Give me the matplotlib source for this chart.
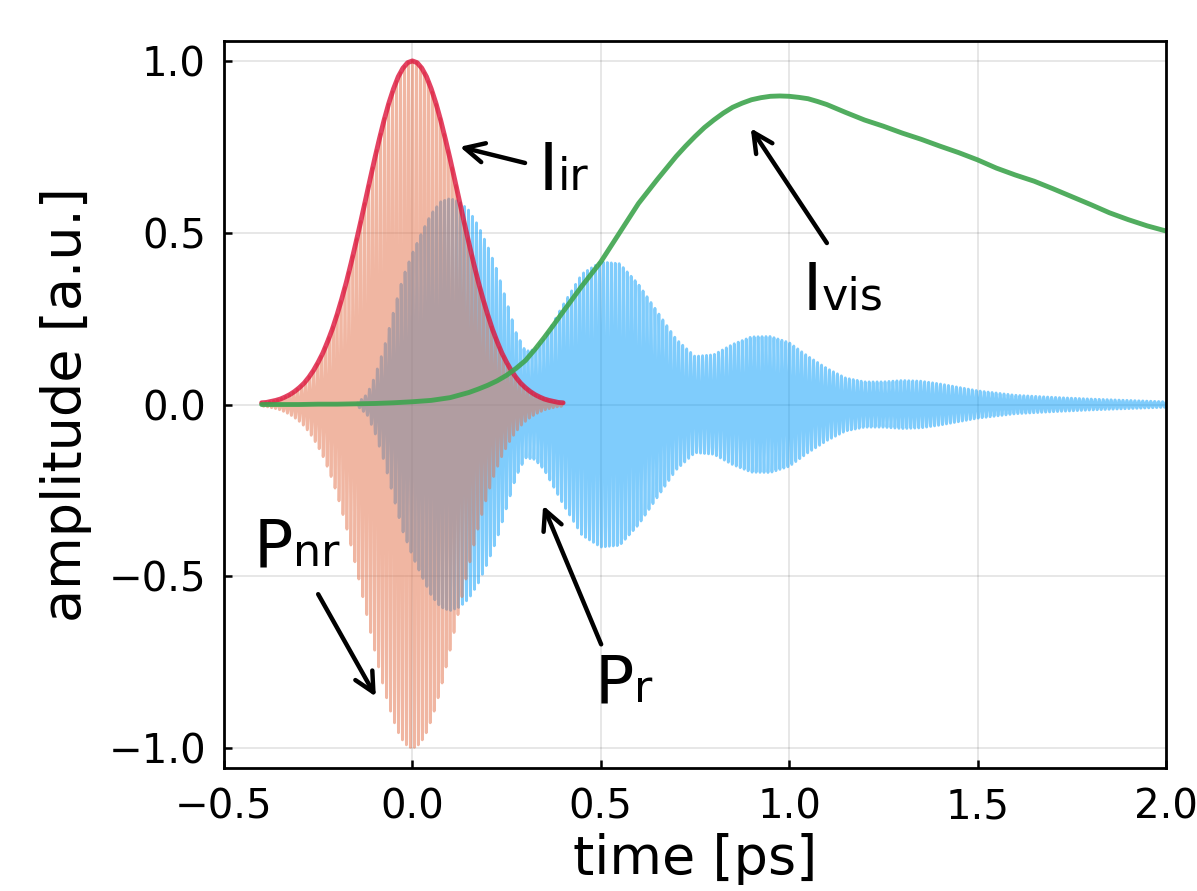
import numpy as np
import matplotlib
matplotlib.use('Agg')
import matplotlib.pyplot as plt

# IR pump intensity (also the envelope of the non-resonant polarisation)
t_ir = np.linspace(-0.4, 0.4, 65)
I_ir_half = [1.000, 0.995, 0.979, 0.954, 0.919, 0.877, 0.828, 0.773, 0.715, 0.654,
             0.592, 0.530, 0.470, 0.412, 0.357, 0.307, 0.261, 0.219, 0.183, 0.150,
             0.123, 0.099, 0.079, 0.062, 0.049, 0.038, 0.029, 0.022, 0.016, 0.012,
             0.009, 0.006, 0.005]
I_ir = I_ir_half[::-1] + I_ir_half[1:]

# visible probe intensity
t_vis = [-0.40, -0.35, -0.30, -0.25, -0.20, -0.15, -0.10, -0.05, 0.00, 0.05, 0.10,
         0.15, 0.175, 0.20, 0.225, 0.25, 0.275, 0.30, 0.325, 0.35, 0.375, 0.40, 0.45,
         0.50, 0.55, 0.60, 0.65, 0.70, 0.725, 0.75, 0.775, 0.80, 0.825, 0.85, 0.875,
         0.90, 0.925, 0.95, 0.975, 1.00, 1.025, 1.05, 1.075, 1.10, 1.15, 1.20, 1.25,
         1.30, 1.35, 1.40, 1.45, 1.50, 1.55, 1.60, 1.65, 1.70, 1.75, 1.80, 1.85,
         1.90, 1.95, 2.00]
I_vis = [0.000, 0.000, 0.000, 0.001, 0.001, 0.002, 0.003, 0.005, 0.008, 0.012, 0.020,
         0.035, 0.045, 0.056, 0.069, 0.085, 0.105, 0.128, 0.160, 0.195, 0.232, 0.270, 0.345,
         0.415, 0.500, 0.585, 0.655, 0.722, 0.752, 0.780, 0.806, 0.828, 0.848, 0.865, 0.877,
         0.887, 0.893, 0.897, 0.898, 0.897, 0.894, 0.890, 0.882, 0.873, 0.850, 0.828, 0.810,
         0.790, 0.772, 0.752, 0.733, 0.712, 0.688, 0.668, 0.650, 0.628, 0.605, 0.582, 0.558,
         0.538, 0.520, 0.505]

# envelope of the resonant polarisation
t_r = [-0.40, -0.15, -0.12, -0.10, -0.075, -0.05, -0.025, 0.00, 0.025, 0.05, 0.075,
       0.10, 0.125, 0.15, 0.175, 0.20, 0.225, 0.25, 0.275, 0.30, 0.325, 0.35, 0.40,
       0.45, 0.50, 0.55, 0.60, 0.65, 0.70, 0.75, 0.80, 0.85, 0.90, 0.95, 1.00, 1.05,
       1.10, 1.15, 1.20, 1.25, 1.30, 1.35, 1.40, 1.45, 1.50, 1.60, 1.70, 1.80, 1.90, 2.00]
env_r = [0.0, 0.0, 0.03, 0.08, 0.165, 0.27, 0.37, 0.44, 0.50, 0.555, 0.59,
         0.60, 0.59, 0.565, 0.52, 0.46, 0.39, 0.30, 0.21, 0.155, 0.16, 0.19, 0.29,
         0.38, 0.415, 0.41, 0.35, 0.27, 0.19, 0.14, 0.145, 0.175, 0.197, 0.198, 0.18, 0.14,
         0.105, 0.077, 0.066, 0.066, 0.07, 0.068, 0.06, 0.05, 0.04, 0.027, 0.021, 0.016, 0.012, 0.008]

nu = 95.0  # IR carrier, cycles per ps

# fast oscillating polarisations
t_nr = np.linspace(-0.4, 0.4, 8000)
P_nr = np.interp(t_nr, t_ir, I_ir) * np.cos(2 * np.pi * nu * t_nr)
t_pr = np.linspace(-0.4, 2.0, 24000)
P_r = np.interp(t_pr, t_r, env_r) * np.sin(2 * np.pi * nu * t_pr + 0.6)

plt.rcParams['font.family'] = 'DejaVu Sans'

fig = plt.figure(figsize=(11.97, 8.91), dpi=100)
ax = fig.add_axes([0.1871, 0.138, 0.787, 0.816])

ax.plot(t_pr, P_r, color='#009AFA', alpha=0.5, lw=2.0)
ax.plot(t_nr, P_nr, color='#E36F47', alpha=0.5, lw=2.0)
ax.plot(t_ir, I_ir, color='crimson', alpha=0.8, lw=3.5, solid_capstyle='round')
ax.plot(t_vis, I_vis, color='#3EA44E', alpha=0.9, lw=3.5, solid_capstyle='round')

ax.set_xlim(-0.5, 2.0)
ax.set_ylim(-1.058, 1.058)
ax.set_xticks([-0.5, 0.0, 0.5, 1.0, 1.5, 2.0])
ax.set_yticks([-1.0, -0.5, 0.0, 0.5, 1.0])
ax.grid(True, color='black', alpha=0.1, lw=1.3)
ax.set_axisbelow(True)
for s in ax.spines.values():
    s.set_linewidth(2.0)
ax.tick_params(direction='in', length=6, width=1.8, labelsize=29, top=False, right=False)
ax.tick_params(axis='x', pad=14)
ax.tick_params(axis='y', pad=13)
ax.set_xlabel('time [ps]', fontsize=39, labelpad=4)
ax.set_ylabel('amplitude [a.u.]', fontsize=39, labelpad=12)

arrow = dict(arrowstyle='->,head_length=0.7,head_width=0.35', color='black', lw=3.2,
             shrinkA=0, shrinkB=0, mutation_scale=20)


def label(x, y, main, sub):
    t = ax.text(x, y, main, fontsize=47, va='baseline', ha='left')
    ax.annotate(sub, xy=(1, 0), xycoords=t, xytext=(0, 3.5), textcoords='offset points',
                fontsize=32, va='bottom', ha='left')


ax.annotate('', xy=(0.126, 0.750), xytext=(0.299, 0.703), arrowprops=arrow)
label(0.336, 0.625, 'I', 'ir')

ax.annotate('', xy=(0.898, 0.804), xytext=(1.100, 0.470), arrowprops=arrow)
label(1.036, 0.276, 'I', 'vis')

ax.annotate('', xy=(0.347, -0.294), xytext=(0.501, -0.698), arrowprops=arrow)
label(0.485, -0.866, 'P', 'r')

ax.annotate('', xy=(-0.097, -0.850), xytext=(-0.250, -0.552), arrowprops=arrow)
label(-0.420, -0.471, 'P', 'nr')

fig.savefig('out.png', dpi=100)
